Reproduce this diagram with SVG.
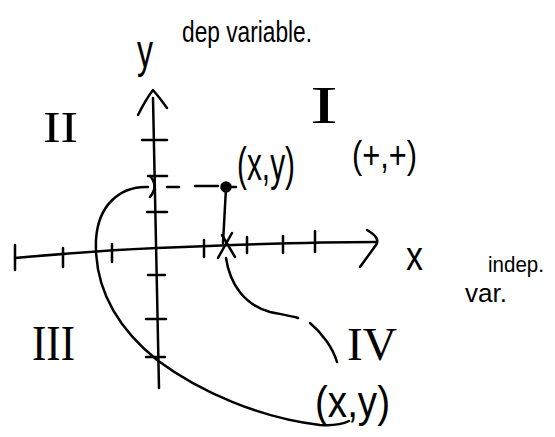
<svg xmlns="http://www.w3.org/2000/svg" width="555" height="437" viewBox="0 0 555 437">
<style>
.s{fill:none;stroke:#000;stroke-width:2.5;stroke-linecap:round;stroke-linejoin:round}
.t{font-family:"Liberation Sans",Arial,sans-serif;fill:#000}
.r{font-family:"Liberation Serif","Times New Roman",serif;fill:#000}
</style>
<rect width="555" height="437" fill="#fff"/>
<g id="axes" class="s">
<path d="M153,98 Q156,240 159,388"/>
<path d="M138,115 Q146,99 153,90 Q160,98 167,108"/>
<path d="M15,258 C60,254 110,250 157,248 S300,242 376,242"/>
<path d="M367,230 Q381,238 376,245 L360,267"/>
<path d="M15,245 L15,270"/>
<path d="M63,248 L63,267 M112,244 L112,262 M204,240 L204,257 M247,237 L247,253 M283,236 L283,253 M315,231 L315,252"/>
<path d="M142,140 L167,140 M148,176 L167,176 M147,212 L167,212 M148,275 L165,275 M146,319 L166,319 M146,357 L165,357"/>
</g>
<g id="point" class="s">
<path d="M167,187 L179,187 M195,186 L218,186 M222,187 L236,187"/>
<circle cx="226" cy="187" r="4.5" fill="#000"/>
<path d="M226,188 L223,243"/>
<path d="M222,235 L235,257 M232,233 L218,258"/>
</g>
<g id="curves" class="s">
<path d="M150,176 Q159,186 150,197"/>
<path d="M148,187 C120,186 98,205 96,240 C94,290 120,330 157,360 C200,392 260,418 320,425 C335,426 345,423 349,421"/>
<path d="M226,258 C230,285 245,305 270,312 C285,315 292,316 298,318"/>
<path d="M310,323 C322,333 333,348 337,362"/>
</g>
<g id="labels">
<text class="t" x="137" y="67" font-size="46" textLength="16" lengthAdjust="spacingAndGlyphs">y</text>
<text class="t" x="182" y="42" font-size="30" textLength="130" lengthAdjust="spacingAndGlyphs">dep variable.</text>
<text class="r" x="310" y="123" font-size="52" textLength="28" lengthAdjust="spacingAndGlyphs">I</text>
<text class="r" x="43" y="142" font-size="44" textLength="35" lengthAdjust="spacingAndGlyphs">II</text>
<text class="r" x="32" y="360" font-size="50" textLength="43" lengthAdjust="spacingAndGlyphs">III</text>
<text class="r" x="347" y="360" font-size="46" textLength="50" lengthAdjust="spacingAndGlyphs">IV</text>
<text class="t" x="237" y="180" font-size="46" textLength="58" lengthAdjust="spacingAndGlyphs">(x,y)</text>
<text class="t" x="352" y="168" font-size="38" textLength="65" lengthAdjust="spacingAndGlyphs">(+,+)</text>
<text class="t" x="406" y="270" font-size="40" textLength="17" lengthAdjust="spacingAndGlyphs">x</text>
<text class="t" x="488" y="272" font-size="22" textLength="56" lengthAdjust="spacingAndGlyphs">indep.</text>
<text class="t" x="465" y="302" font-size="26" textLength="42" lengthAdjust="spacingAndGlyphs">var.</text>
<text class="t" x="315" y="417" font-size="44" textLength="75" lengthAdjust="spacingAndGlyphs">(x,y)</text>
</g>
</svg>
